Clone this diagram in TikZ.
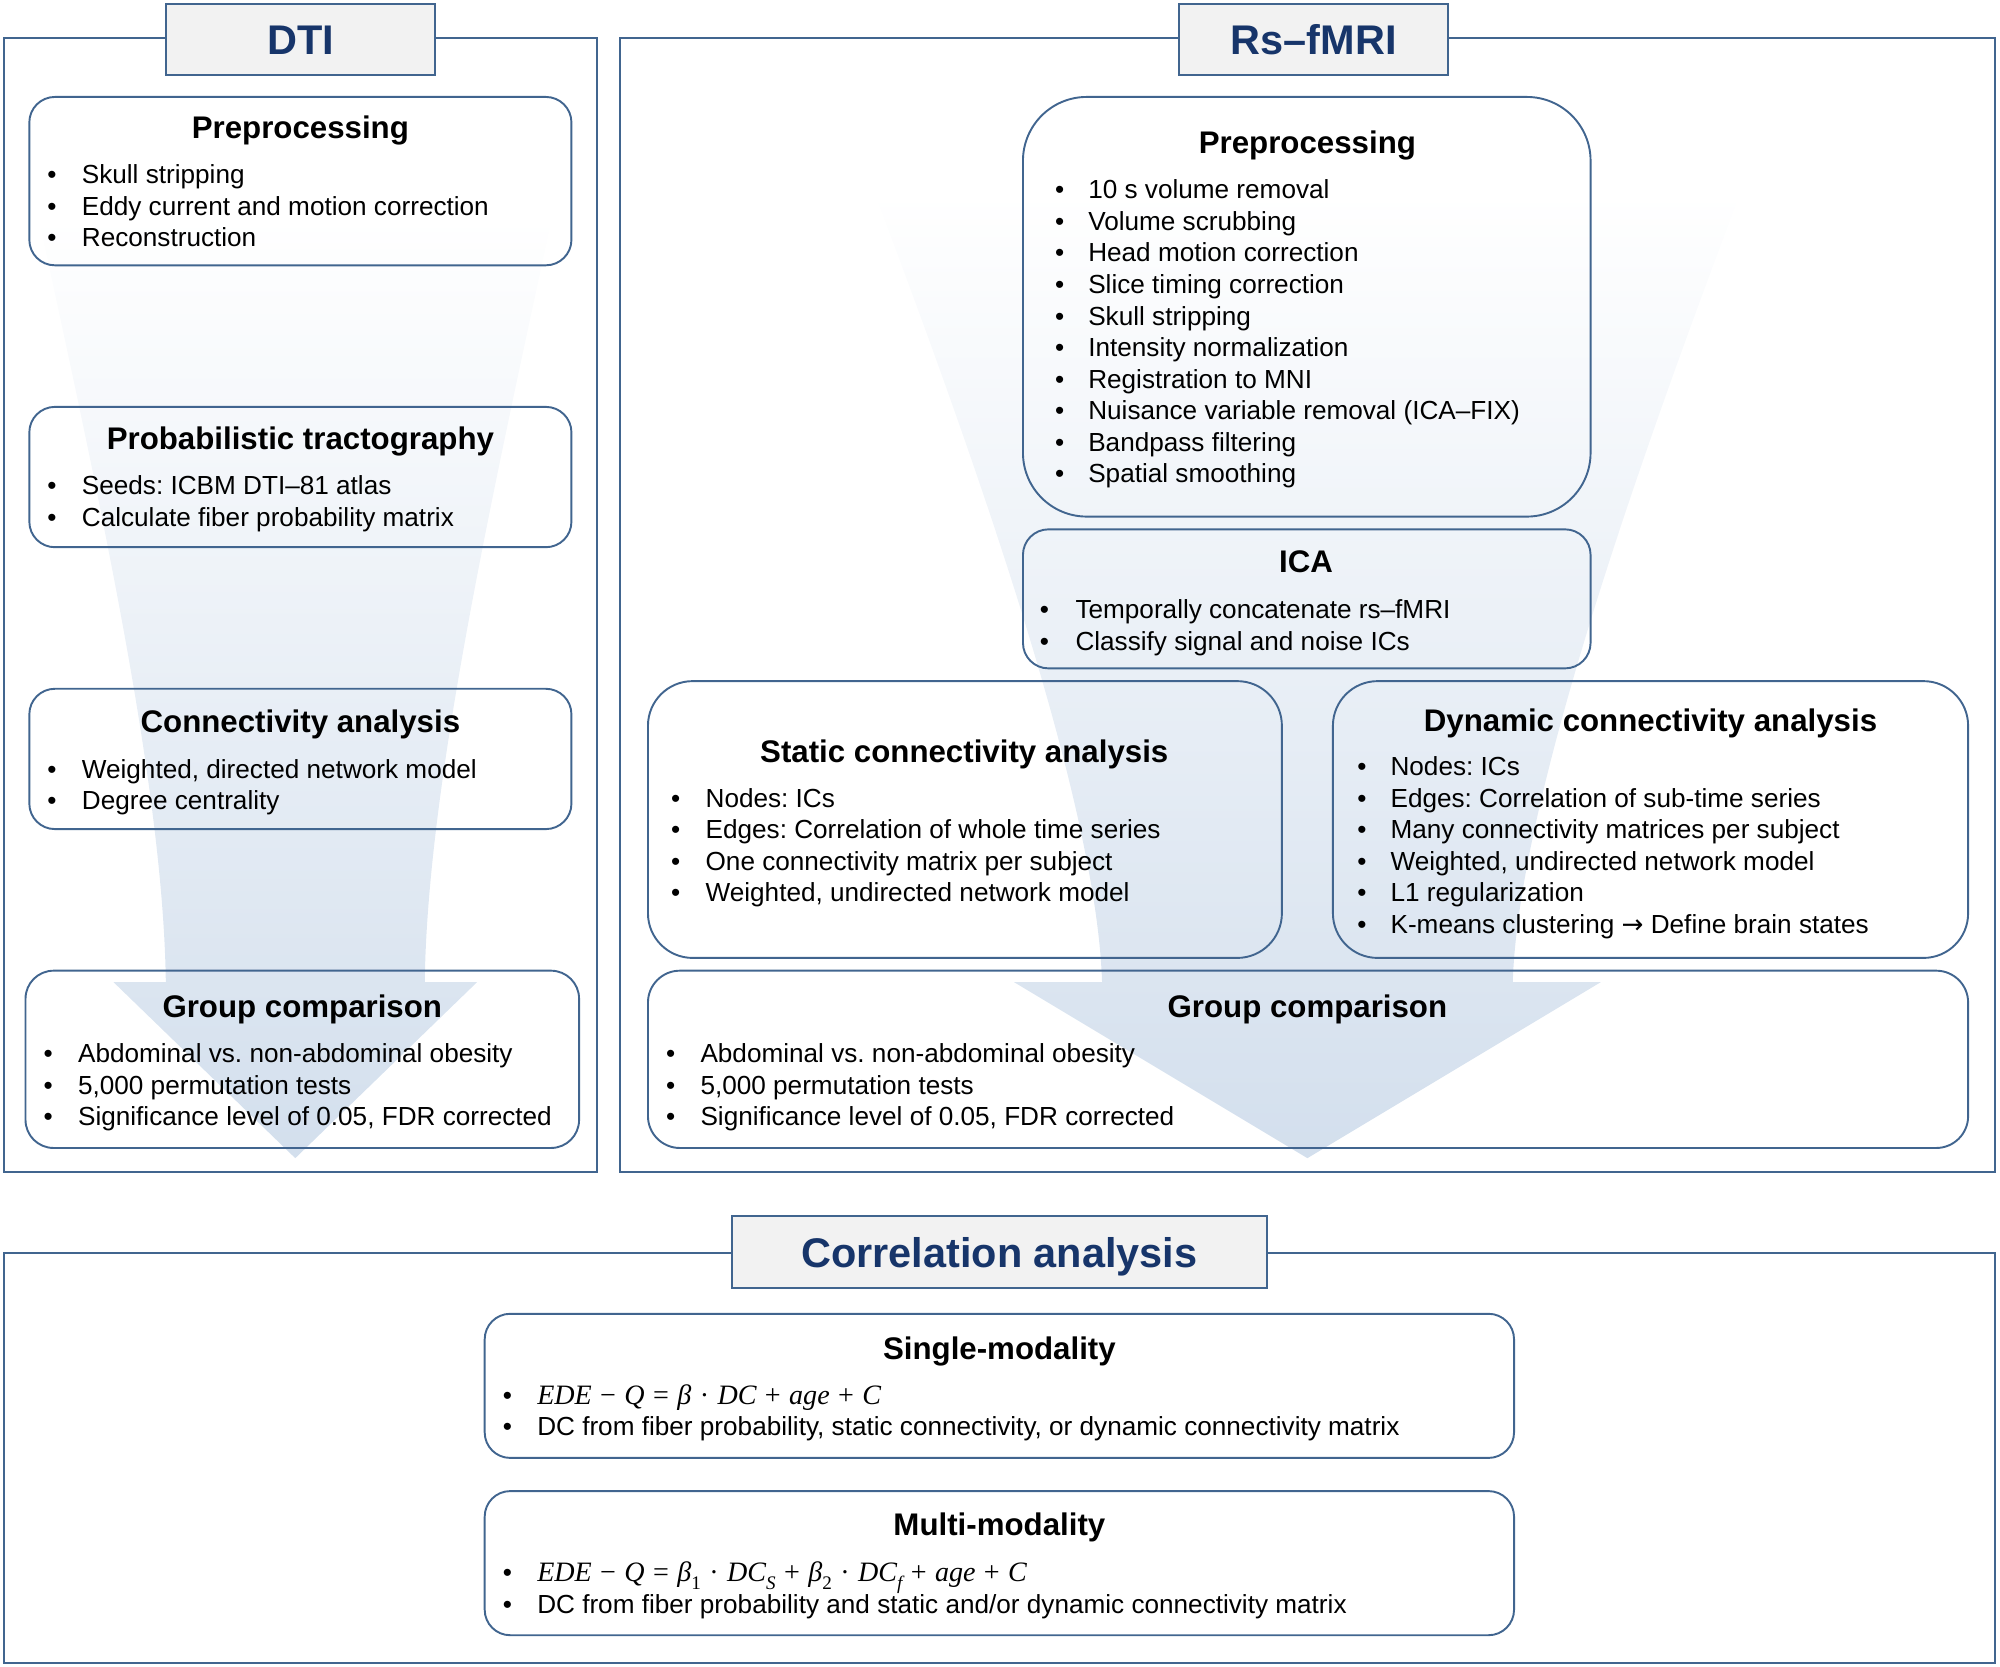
\documentclass[tikz,border=0pt]{standalone}
\usepackage{fix-cm}
\usepackage{fontspec}
\setmainfont{Liberation Sans}
\newfontfamily\djv{DejaVu Sans}
\newfontfamily\cmath{Liberation Serif}
\frenchspacing
\definecolor{bord}{HTML}{41658F}
\definecolor{navy}{HTML}{17356A}
\definecolor{tfill}{HTML}{F2F2F2}
\definecolor{arr}{HTML}{D3DFED}
\tikzset{
  box/.style={draw=bord, line width=1.5pt, inner sep=0pt},
  tbox/.style={draw=bord, line width=1.5pt, fill=tfill, inner sep=0pt},
  frame/.style={draw=bord, line width=1.5pt},
  bigttl/.style={font=\fontsize{32.5}{38}\selectfont\bfseries, text=navy, text height=23.3pt, text depth=0pt, inner sep=0pt},
  ttl/.style={font=\fontsize{24.5}{29}\selectfont\bfseries, anchor=base, inner sep=0pt},
  txt/.style={font=\fontsize{20.5}{24.7}\selectfont, anchor=base west, inner sep=0pt},
  bgarrow/.style={top color=white, bottom color=arr, draw=none},
}
% formula helpers
\newcommand\fml[1]{{\fontsize{22}{24.7}\selectfont\cmath #1}}
\newcommand\mi[1]{{\itshape #1}}
\newcommand\mo[1]{\hspace{0.3em}#1\hspace{0.3em}}
\newcommand\sbs[1]{\raisebox{-0.28em}{\fontsize{15}{15}\selectfont #1}}
% box: name, x1, y1, x2, y2, radius
\newcommand\bx[6]{\node[box, rounded corners=#6, minimum width={#4-#2}, minimum height={#5-#3}] (#1) at ({(#2+#4)/2},{(#3+#5)/2}) {};}
% bullet list: name, bullet x, text x, first line centre y, items
\newcommand\blst[5]{\foreach \itm [count=\nn] in {#5}{\pgfmathsetmacro\yy{#4+7+(\nn-1)*24.7}\node[txt] (#1b\nn) at ({#2-3},\yy) {•}; \node[txt] (#1t\nn) at (#3,\yy) {\itm};}}
\begin{document}
\begin{tikzpicture}[x=1pt,y=-1pt]
\useasboundingbox (0,0) rectangle (1568,1306.9);
% background arrows
\path[bgarrow] (30,170) -- (433,170) .. controls (383,400) and (335,620) .. (333,770) -- (374,770) -- (231.5,908) -- (89,770) -- (130,770) .. controls (128,620) and (80,400) .. (30,170) -- cycle;
\path[bgarrow] (685,150) -- (1365,150) .. controls (1270,400) and (1190,640) .. (1186,770) -- (1255,770) -- (1025,908) -- (795,770) -- (864,770) .. controls (860,640) and (780,400) .. (685,150) -- cycle;
% frames
\draw[frame] (3,30) rectangle (468,919);
\draw[frame] (486,30) rectangle (1564,919);
\draw[frame] (3,982) rectangle (1564,1304);
% DTI boxes
\bx{dpre}{23}{76}{448}{208}{20}
\node[ttl] (dpreT) at (235.5,108.5) {Preprocessing};
\blst{dpre}{40}{64}{137}{Skull stripping, Eddy current and motion correction, Reconstruction}
\bx{dprob}{23}{319}{448}{429}{20}
\node[ttl] (dprobT) at (235.5,352.5) {Probabilistic tractography};
\blst{dprob}{40}{64}{381}{Seeds: ICBM DTI–81 atlas, Calculate fiber probability matrix}
\bx{dconn}{23}{540}{448}{650}{20}
\node[ttl] (dconnT) at (235.5,574.5) {Connectivity analysis};
\blst{dconn}{40}{64}{603}{{Weighted, directed network model}, Degree centrality}
\bx{dgrp}{20}{761}{454}{900}{22}
\node[ttl] (dgrpT) at (237,797.5) {Group comparison};
\blst{dgrp}{37}{61}{826}{Abdominal vs. non-abdominal obesity, {5,000 permutation tests}, {Significance level of 0.05, FDR corrected}}
% Rs-fMRI boxes
\bx{rpre}{802}{76}{1247}{405}{50}
\node[ttl] (rpreT) at (1025,120.5) {Preprocessing};
\blst{rpre}{830}{853}{149}{10 s volume removal, Volume scrubbing, Head motion correction, Slice timing correction, Skull stripping, Intensity normalization, Registration to MNI, Nuisance variable removal (ICA–FIX), Bandpass filtering, Spatial smoothing}
\bx{rica}{802}{415}{1247}{524}{20}
\node[ttl] (ricaT) at (1024,448.5) {ICA};
\blst{rica}{818}{843}{478}{Temporally concatenate rs–fMRI, Classify signal and noise ICs}
\bx{rsta}{508}{534}{1005}{751}{35}
\node[ttl] (rstaT) at (756,597.5) {Static connectivity analysis};
\blst{rsta}{529}{553}{626}{Nodes: ICs, Edges: Correlation of whole time series, One connectivity matrix per subject, {Weighted, undirected network model}}
\bx{rdyn}{1045}{534}{1543}{751}{35}
\node[ttl] (rdynT) at (1294,573.5) {Dynamic connectivity analysis};
\blst{rdyn}{1067}{1090}{601}{Nodes: ICs, Edges: Correlation of sub-time series, Many connectivity matrices per subject, {Weighted, undirected network model}, L1 regularization, {K-means clustering {\djv →} Define brain states}}
\bx{rgrp}{508}{761}{1543}{900}{25}
\node[ttl] (rgrpT) at (1025,797.5) {Group comparison};
\blst{rgrp}{525}{549}{826}{Abdominal vs. non-abdominal obesity, {5,000 permutation tests}, {Significance level of 0.05, FDR corrected}}
% Correlation boxes
\bx{csin}{380}{1030}{1187}{1143}{20}
\node[ttl] (csinT) at (783.5,1065.5) {Single-modality};
\blst{csin}{397}{421}{1094}{{\fml{\mi{EDE}\mo{−}\mi{Q}\mo{=}\mi{β}\mo{·}\mi{DC}\mo{+}\mi{age}\mo{+}\mi{C}}}, {DC from fiber probability, static connectivity, or dynamic connectivity matrix}}
\bx{cmul}{380}{1169}{1187}{1282}{20}
\node[ttl] (cmulT) at (783.5,1203.5) {Multi-modality};
\blst{cmul}{397}{421}{1233}{{\fml{\mi{EDE}\mo{−}\mi{Q}\mo{=}\mi{β}\sbs{1}\mo{·}\mi{DC}\sbs{\mi{S}}\mo{+}\mi{β}\sbs{2}\mo{·}\mi{DC}\sbs{\mi{f}}\mo{+}\mi{age}\mo{+}\mi{C}}}, {DC from fiber probability and static and/or dynamic connectivity matrix}}
% title boxes
\node[tbox, minimum width=211, minimum height=56] (dtiBox) at (235.5,31) {};
\node[bigttl] (dtiL) at (236,31) {DTI};
\node[tbox, minimum width=211, minimum height=56] (rsBox) at (1029.5,31) {};
\node[bigttl] (rsL) at (1030,31) {Rs–fMRI};
\node[tbox, minimum width=419, minimum height=57] (corBox) at (783.5,981.5) {};
\node[bigttl] (corL) at (783.5,982) {Correlation analysis};
\end{tikzpicture}
\end{document}
